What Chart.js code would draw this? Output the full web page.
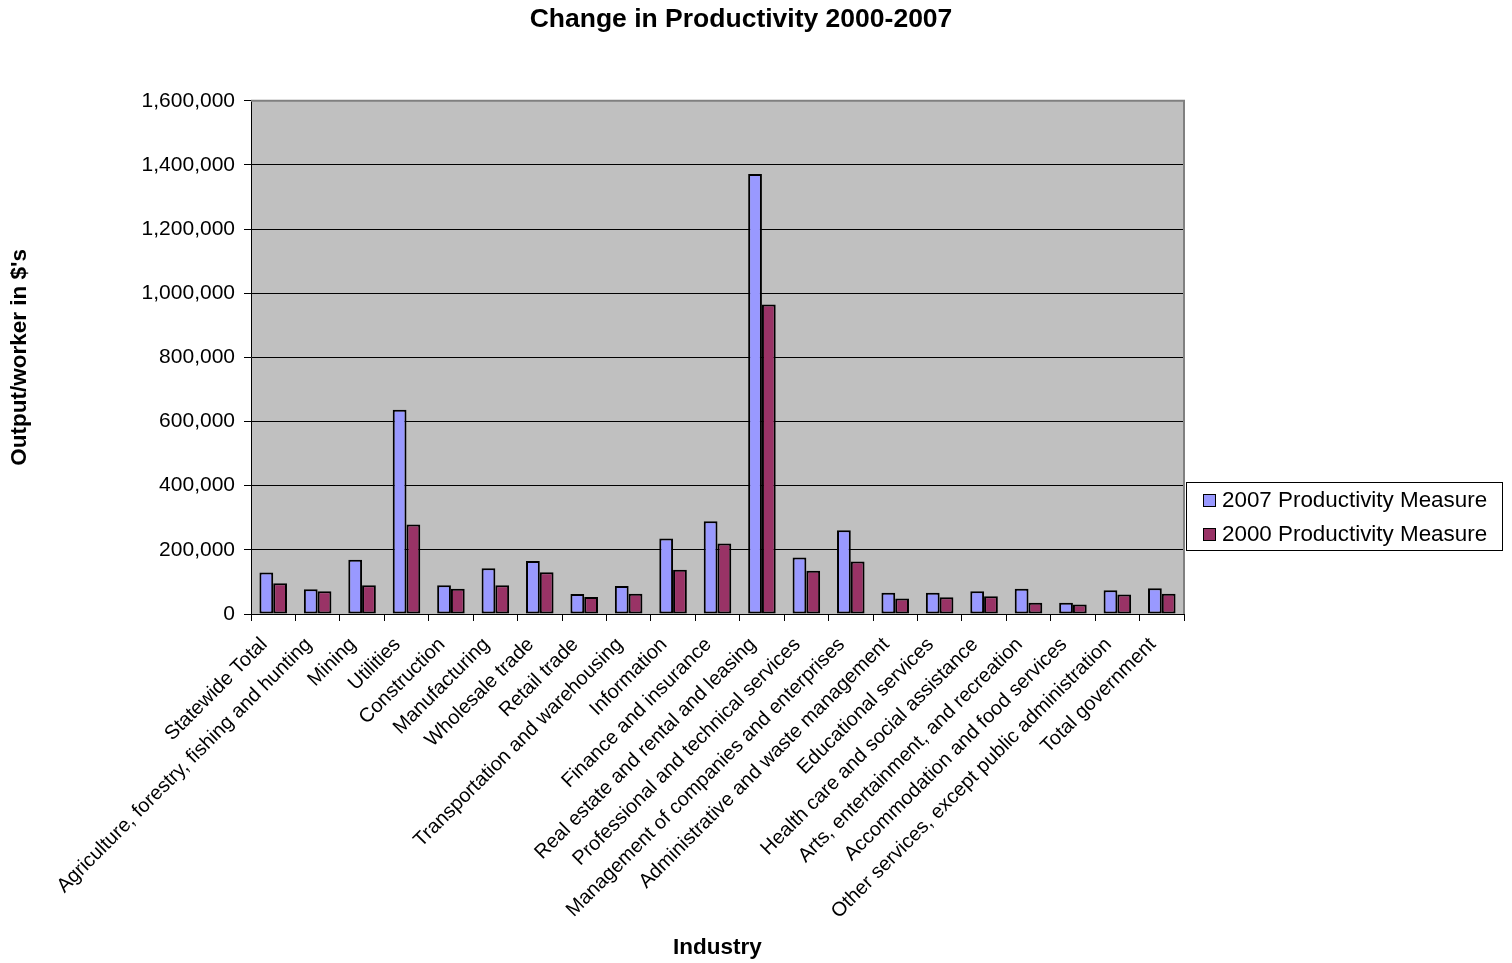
<!DOCTYPE html>
<html>
<head>
<meta charset="utf-8">
<title>Change in Productivity 2000-2007</title>
<script src="https://cdn.jsdelivr.net/npm/chart.js@4.4.1/dist/chart.umd.min.js"></script>
<style>
  html, body { margin: 0; padding: 0; background: #ffffff; }
  #wrap { width: 1512px; height: 963px; }
</style>
</head>
<body>
<div id="wrap"><canvas id="chart"></canvas></div>
<script>
// Industries (x-axis categories)
const industries = [
  'Statewide Total',
  'Agriculture, forestry, fishing and hunting',
  'Mining',
  'Utilities',
  'Construction',
  'Manufacturing',
  'Wholesale trade',
  'Retail trade',
  'Transportation and warehousing',
  'Information',
  'Finance and insurance',
  'Real estate and rental and leasing',
  'Professional and technical services',
  'Management of companies and enterprises',
  'Administrative and waste management',
  'Educational services',
  'Health care and social assistance',
  'Arts, entertainment, and recreation',
  'Accommodation and food services',
  'Other services, except public administration',
  'Total government'
];

// Output per worker, in dollars
const productivity2007 = [
  129000, 77000, 169000, 637000, 90000, 143000, 165000, 62000, 87000, 235000,
  289000, 1372000, 176000, 261000, 66000, 66000, 71000, 79000, 35000, 74000, 80000
];
const productivity2000 = [
  96000, 71000, 90000, 279000, 79000, 90000, 130000, 53000, 63000, 138000,
  220000, 965000, 135000, 164000, 48000, 52000, 55000, 35000, 30000, 61000, 63000
];

// Value-axis tick labels
const yTickValues = [0, 200000, 400000, 600000, 800000, 1000000, 1200000, 1400000, 1600000];

const seriesLabels = ['2007 Productivity Measure', '2000 Productivity Measure'];

const FONT = '"Liberation Sans", Arial, Helvetica, sans-serif';
Chart.defaults.font.family = FONT;
Chart.defaults.color = '#000000';

// Grey plotting area behind the bars
const plotBackground = {
  id: 'plotBackground',
  beforeDraw(chart) {
    const { ctx, chartArea: a } = chart;
    ctx.save();
    ctx.fillStyle = '#C0C0C0';
    ctx.fillRect(a.left, a.top, a.right - a.left, a.bottom - a.top);
    ctx.restore();
  }
};

// Grey frame on the top and right edges of the plotting area
const plotFrame = {
  id: 'plotFrame',
  afterDatasetsDraw(chart) {
    const { ctx, chartArea: a } = chart;
    ctx.save();
    ctx.strokeStyle = '#808080';
    ctx.lineWidth = 2;
    ctx.beginPath();
    ctx.moveTo(a.left, a.top);
    ctx.lineTo(a.right, a.top);
    ctx.lineTo(a.right, a.bottom);
    ctx.stroke();
    ctx.restore();
  }
};

// Boxed legend to the right of the plotting area
const boxLegend = {
  id: 'boxLegend',
  afterDraw(chart) {
    const { ctx, chartArea: a } = chart;
    const x = a.right + 2, y = a.bottom - 132, w = 317, h = 69;
    ctx.save();
    ctx.fillStyle = '#ffffff';
    ctx.fillRect(x, y, w, h);
    ctx.strokeStyle = '#000000';
    ctx.lineWidth = 1;
    ctx.strokeRect(x + 0.5, y + 0.5, w - 1, h - 1);
    ctx.font = '22.4px ' + FONT;
    ctx.textBaseline = 'middle';
    ctx.textAlign = 'left';
    chart.data.datasets.forEach((ds, i) => {
      const cy = Math.round(y + 18 + i * 34);
      ctx.fillStyle = ds.backgroundColor;
      ctx.fillRect(x + 17, cy - 6, 13, 13);
      ctx.strokeStyle = '#000000';
      ctx.strokeRect(x + 17.5, cy - 5.5, 12, 12);
      ctx.fillStyle = '#000000';
      ctx.fillText(ds.label, x + 36, cy + 1);
    });
    ctx.restore();
  }
};

new Chart(document.getElementById('chart'), {
  type: 'bar',
  data: {
    labels: industries,
    datasets: [
      {
        label: seriesLabels[0],
        data: productivity2007,
        backgroundColor: '#9999FF',
        borderColor: '#000000',
        borderWidth: 2,
        borderSkipped: false,
        categoryPercentage: 0.62,
        barPercentage: 1.0
      },
      {
        label: seriesLabels[1],
        data: productivity2000,
        backgroundColor: '#993366',
        borderColor: '#000000',
        borderWidth: 2,
        borderSkipped: false,
        categoryPercentage: 0.62,
        barPercentage: 1.0
      }
    ]
  },
  options: {
    responsive: true,
    maintainAspectRatio: false,
    animation: false,
    layout: { padding: { left: 0, right: 30, top: 0, bottom: 0 } },
    plugins: {
      legend: { display: false },
      tooltip: { enabled: false },
      title: {
        display: true,
        fullSize: true,
        text: 'Change in Productivity 2000-2007',
        color: '#000000',
        font: { size: 26.5, weight: 'bold', family: FONT },
        padding: { top: 4, bottom: 65 }
      }
    },
    scales: {
      x: {
        grid: {
          offset: true,
          drawOnChartArea: false,
          drawTicks: true,
          tickLength: 7,
          color: '#000000'
        },
        border: { display: true, color: '#000000', width: 1 },
        ticks: {
          autoSkip: false,
          minRotation: 45,
          maxRotation: 45,
          padding: 12,
          labelOffset: -9,
          color: '#000000',
          font: { size: 20, family: FONT }
        },
        title: {
          display: true,
          text: 'Industry',
          color: '#000000',
          font: { size: 22.5, weight: 'bold', family: FONT },
          padding: { top: 4, bottom: 2 }
        },
        afterFit(scale) { scale.height = 349; }
      },
      y: {
        min: yTickValues[0],
        max: yTickValues[yTickValues.length - 1],
        afterBuildTicks(scale) {
          scale.ticks = yTickValues.map(v => ({ value: v }));
        },
        grid: {
          drawOnChartArea: true,
          drawTicks: true,
          tickLength: 7,
          color: '#000000',
          lineWidth: 1
        },
        border: { display: true, color: '#000000', width: 1 },
        ticks: {
          padding: 9,
          color: '#000000',
          font: { size: 21, family: FONT },
          callback: (v) => Number(v).toLocaleString('en-US')
        },
        title: {
          display: true,
          text: "Output/worker in $'s",
          color: '#000000',
          font: { size: 22.5, weight: 'bold', family: FONT },
          padding: { top: 6, bottom: 4 }
        },
        afterFit(scale) { scale.width = 251; }
      },
      // Empty axis that holds the space on the right where the legend sits
      legendSpace: {
        type: 'linear',
        position: 'right',
        display: true,
        grid: { display: false, drawTicks: false },
        border: { display: false },
        ticks: { display: false },
        afterFit(scale) { scale.width = 298; }
      }
    }
  },
  plugins: [plotBackground, plotFrame, boxLegend]
});
</script>
</body>
</html>
